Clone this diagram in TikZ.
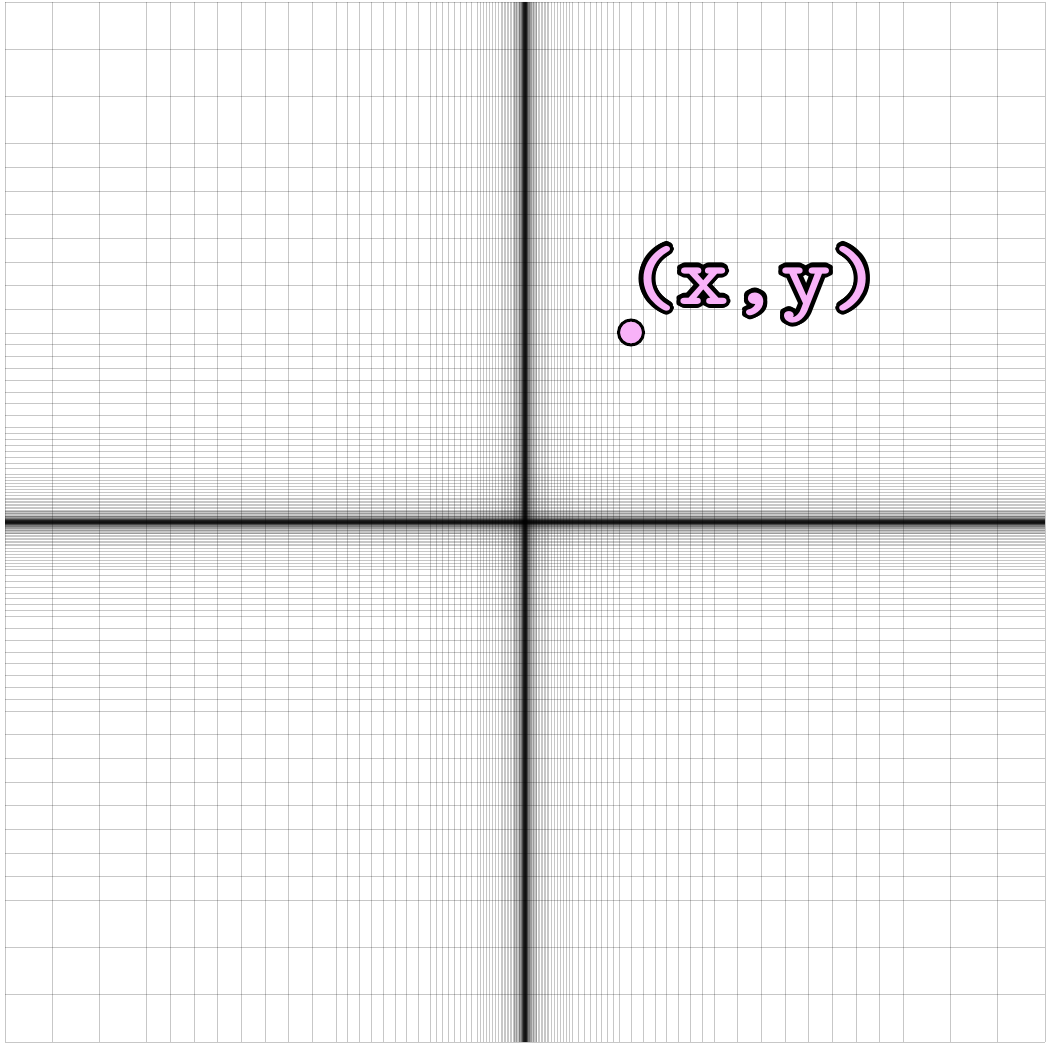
\documentclass[tikz,border=0pt]{standalone}
\usepackage{fontspec}
\definecolor{pinkfill}{RGB}{248,178,248}
\tikzset{
  gridline/.style={black, opacity=0.22, line width=0.8},
  dotstyle/.style={circle, draw=black, line width=3, fill=pinkfill, minimum size=25, inner sep=0pt},
  lblbase/.style={font=\fontsize{84}{84}\selectfont\ttfamily\bfseries, inner sep=0pt, anchor=base, xscale=1.16, transform shape},
}
\begin{document}
\begin{tikzpicture}[x=1pt,y=-1pt]
\useasboundingbox (0,0) rectangle (1052,1049);
\def\cx{525}
\def\cy{522}
\def\sone{47.2727}
% coarse level: full grid
\foreach \i in {-11,...,11}{
  \draw[gridline] ({\cx+\i*\sone},2) -- ({\cx+\i*\sone},1042);
  \draw[gridline] (5,{\cy+\i*\sone}) -- (1045,{\cy+\i*\sone});
}
% finer levels, each halving the step near the axes
\foreach \k in {2,...,10}{
  \pgfmathsetmacro{\st}{\sone/(2^(\k-1))}
  \foreach \i in {-15,-13,...,15}{
    \draw[gridline] ({\cx+\i*\st},2) -- ({\cx+\i*\st},1042);
    \draw[gridline] (5,{\cy+\i*\st}) -- (1045,{\cy+\i*\st});
  }
}
% point
\node[dotstyle] (pt) at (631,332.5) {};
% label with outline
\foreach \a in {0,30,...,330}{
  \node[lblbase, text=black] (lbl\a) at ([shift={(\a:4.2)}]755,304) {(x,y)};
}
\node[lblbase, text=pinkfill] (lbl) at (755,304) {(x,y)};
\end{tikzpicture}
\end{document}
